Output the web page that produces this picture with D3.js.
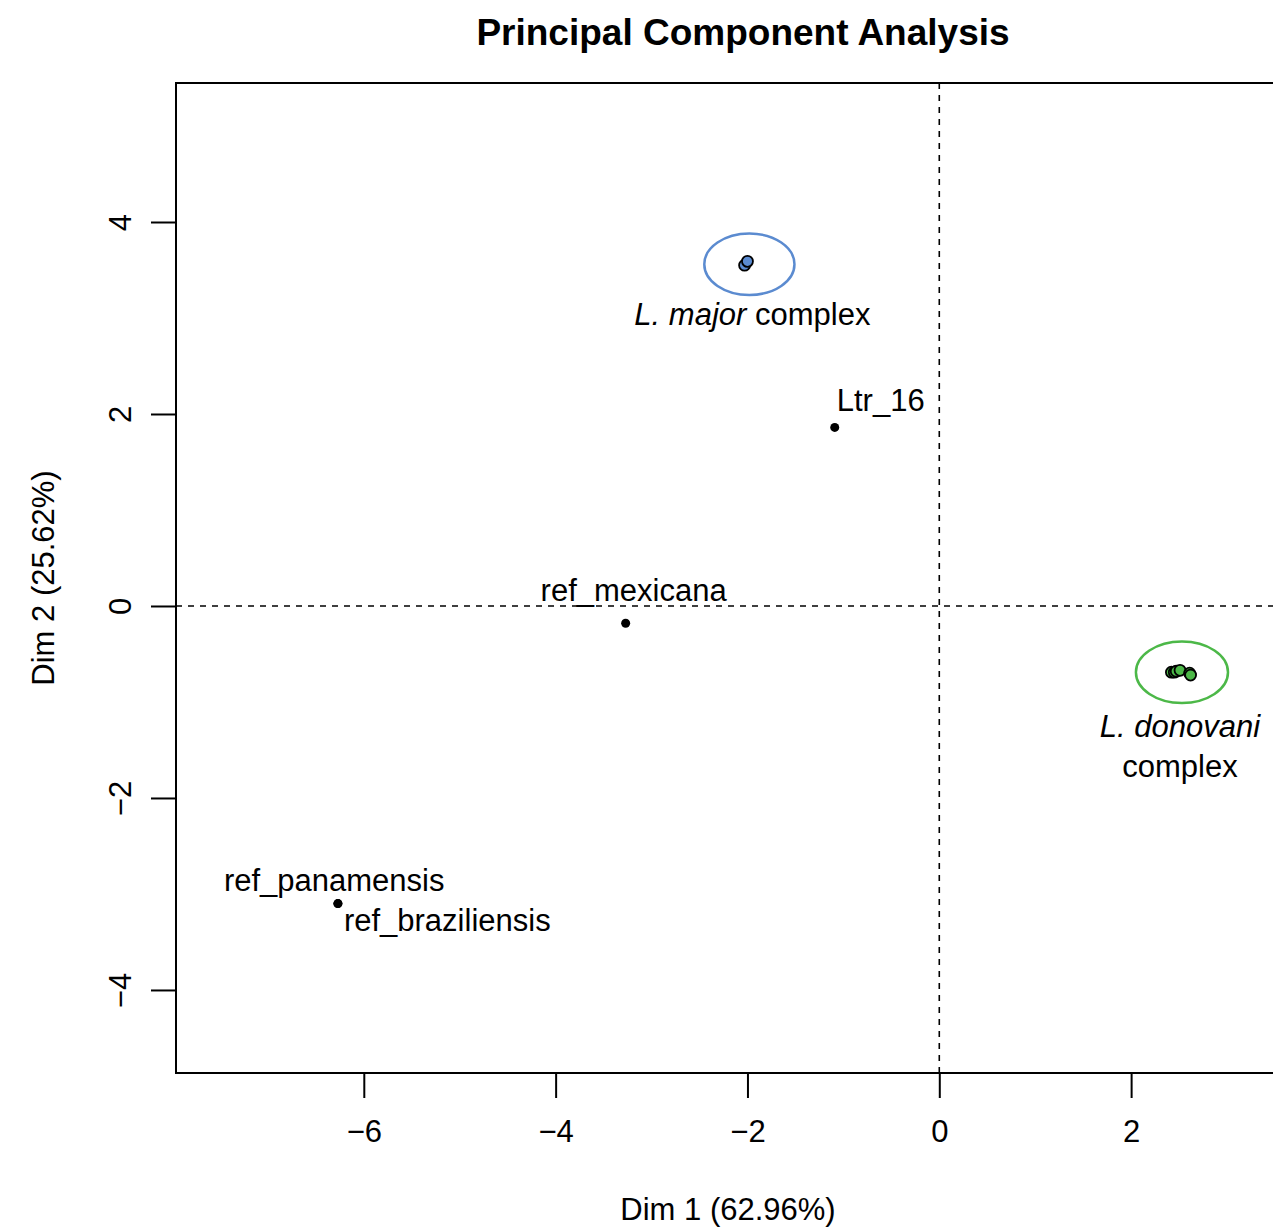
<!DOCTYPE html>
<html>
<head>
<meta charset="utf-8">
<script src="https://cdn.jsdelivr.net/npm/d3@7"></script>
<style>
  html, body { margin: 0; padding: 0; background: #fff; overflow: hidden; }
  svg text { font-family: "Liberation Sans", Arial, Helvetica, sans-serif; fill: #000; }
</style>
</head>
<body>
<div id="chart"></div>
<script>
// PCA scores (Dim 1, Dim 2)
const majorPts = [[-2.03, 3.55], [-2.00, 3.59]];
const donovaniPts = [[2.42, -0.69], [2.45, -0.69], [2.47, -0.68], [2.51, -0.67], [2.61, -0.70], [2.62, -0.72]];
const singles = [
  { name: 'Ltr_16', x: -1.09, y: 1.86 },
  { name: 'ref_mexicana', x: -3.27, y: -0.18 },
  { name: 'ref_panamensis', x: -6.27, y: -3.10 },
  { name: 'ref_braziliensis', x: -6.27, y: -3.10 }
];
// group ellipses: centre and radii in data units
const ellipses = [
  { cx: -1.98, cy: 3.56, rx: 0.47, ry: 0.32, color: '#5b8bd0' },
  { cx: 2.53, cy: -0.69, rx: 0.48, ry: 0.32, color: '#4cb848' }
];
const xTicks = [-6, -4, -2, 0, 2];
const yTicks = [-4, -2, 0, 2, 4];

const W = 1273, H = 1231;
const plot = { left: 176, top: 83, right: 1310, bottom: 1073 };
const FS = 31;

const svg = d3.select('#chart').append('svg')
  .attr('width', W).attr('height', H);

const x = d3.scaleLinear().domain([-7.958, 3.865]).range([plot.left, plot.right]);
const y = d3.scaleLinear().domain([-4.865, 5.448]).range([plot.bottom, plot.top]);

// title
svg.append('text')
  .attr('x', 743).attr('y', 45)
  .attr('text-anchor', 'middle')
  .attr('font-size', 37).attr('font-weight', 'bold')
  .text('Principal Component Analysis');

// zero lines
svg.append('line')
  .attr('x1', x(0)).attr('x2', x(0)).attr('y1', plot.top).attr('y2', plot.bottom)
  .attr('stroke', '#000').attr('stroke-width', 1.6).attr('stroke-dasharray', '6,6');
svg.append('line')
  .attr('x1', plot.left).attr('x2', plot.right).attr('y1', y(0)).attr('y2', y(0))
  .attr('stroke', '#000').attr('stroke-width', 1.6).attr('stroke-dasharray', '6,6');

// box
svg.append('rect')
  .attr('x', plot.left).attr('y', plot.top)
  .attr('width', plot.right - plot.left).attr('height', plot.bottom - plot.top)
  .attr('fill', 'none').attr('stroke', '#000').attr('stroke-width', 2);

// axes
const minus = d => d < 0 ? '\u2212' + Math.abs(d) : d;
const xAxis = svg.append('g')
  .attr('transform', `translate(0,${plot.bottom})`)
  .call(d3.axisBottom(x).tickValues(xTicks).tickSize(25).tickPadding(22).tickFormat(minus));
xAxis.select('.domain').attr('d', `M${x(-6)},0H${x(2)}`).attr('stroke-width', 2);
xAxis.selectAll('.tick line').attr('stroke-width', 2);
xAxis.selectAll('text').attr('font-size', FS).attr('font-family', null);

const yAxis = svg.append('g')
  .attr('transform', `translate(${plot.left},0)`)
  .call(d3.axisLeft(y).tickValues(yTicks).tickSize(25).tickPadding(0).tickFormat(minus));
yAxis.select('.domain').attr('d', `M0,${y(-4)}V${y(4)}`).attr('stroke-width', 2);
yAxis.selectAll('.tick line').attr('stroke-width', 2);
yAxis.selectAll('text')
  .attr('font-size', FS).attr('font-family', null)
  .attr('text-anchor', 'middle').attr('dy', null)
  .attr('x', 0).attr('y', 0)
  .attr('transform', 'translate(-56,0) rotate(-90)')
  .attr('dominant-baseline', 'central');

// axis titles
svg.append('text')
  .attr('x', 728).attr('y', 1220)
  .attr('text-anchor', 'middle').attr('font-size', FS)
  .text('Dim 1 (62.96%)');
svg.append('text')
  .attr('transform', `translate(54,${(plot.top + plot.bottom) / 2}) rotate(-90)`)
  .attr('text-anchor', 'middle').attr('font-size', FS)
  .text('Dim 2 (25.62%)');

// ellipses
svg.append('g').selectAll('ellipse').data(ellipses).join('ellipse')
  .attr('cx', d => x(d.cx)).attr('cy', d => y(d.cy))
  .attr('rx', d => x(d.cx + d.rx) - x(d.cx)).attr('ry', d => y(d.cy - d.ry) - y(d.cy))
  .attr('fill', 'none').attr('stroke', d => d.color).attr('stroke-width', 2.5);

// group points
svg.append('g').selectAll('circle').data(majorPts).join('circle')
  .attr('cx', d => x(d[0])).attr('cy', d => y(d[1])).attr('r', 5.5)
  .attr('fill', '#5b8bd0').attr('stroke', '#000').attr('stroke-width', 1.8);
svg.append('g').selectAll('circle').data(donovaniPts).join('circle')
  .attr('cx', d => x(d[0])).attr('cy', d => y(d[1])).attr('r', 5.5)
  .attr('fill', '#4cb848').attr('stroke', '#000').attr('stroke-width', 1.8);

// single reference points
svg.append('g').selectAll('circle').data(singles).join('circle')
  .attr('cx', d => x(d.x)).attr('cy', d => y(d.y)).attr('r', 4.5)
  .attr('fill', '#000');

// point labels (offsets in px from the point)
const labelPos = {
  'Ltr_16': { dx: 2, dy: -16, anchor: 'start' },
  'ref_mexicana': { dx: 8, dy: -22, anchor: 'middle' },
  'ref_panamensis': { dx: -114, dy: -13, anchor: 'start' },
  'ref_braziliensis': { dx: 6, dy: 27, anchor: 'start' }
};
svg.append('g').selectAll('text').data(singles).join('text')
  .attr('x', d => x(d.x) + labelPos[d.name].dx)
  .attr('y', d => y(d.y) + labelPos[d.name].dy)
  .attr('text-anchor', d => labelPos[d.name].anchor)
  .attr('font-size', FS)
  .text(d => d.name);

// group labels
const majorLabel = svg.append('text')
  .attr('x', x(ellipses[0].cx) + 3).attr('y', y(ellipses[0].cy) + 61)
  .attr('text-anchor', 'middle').attr('font-size', FS);
majorLabel.append('tspan').attr('font-style', 'italic').text('L. major');
majorLabel.append('tspan').text(' complex');

svg.append('text')
  .attr('x', x(ellipses[1].cx) - 2).attr('y', y(ellipses[1].cy) + 65)
  .attr('text-anchor', 'middle').attr('font-size', FS).attr('font-style', 'italic')
  .text('L. donovani');
svg.append('text')
  .attr('x', x(ellipses[1].cx) - 2).attr('y', y(ellipses[1].cy) + 105)
  .attr('text-anchor', 'middle').attr('font-size', FS)
  .text('complex');
</script>
</body>
</html>
